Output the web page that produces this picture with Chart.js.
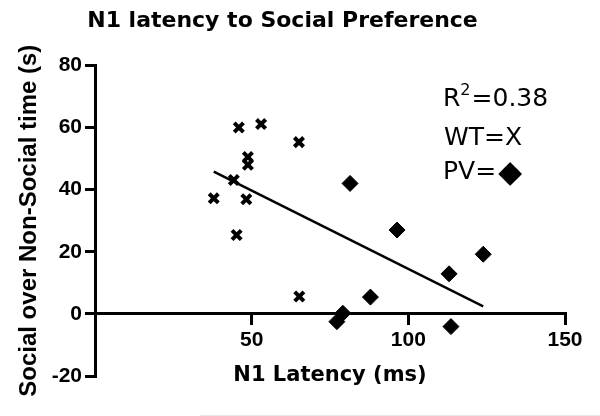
<!DOCTYPE html>
<html>
<head>
<meta charset="utf-8">
<script src="https://cdn.jsdelivr.net/npm/chart.js@4/dist/chart.umd.min.js"></script>
<style>
  body { margin: 0; background: #fff; }
  canvas { display: block; }
</style>
</head>
<body>
<canvas id="chart" width="600" height="416"></canvas>
<script>
// WT mice (drawn as X)
const wtLatency = [45.9, 53.0, 65.1, 48.8, 48.8, 44.3, 37.9, 48.3, 45.2, 65.2];
const wtSocial = [60.0, 61.1, 55.3, 50.5, 48.0, 43.1, 37.2, 36.9, 25.4, 5.6];
// PV mice (diamonds)
const pvLatency = [81.4, 96.4, 123.9, 113.0, 87.9, 79.1, 77.2, 113.6];
const pvSocial = [42.0, 27.0, 19.2, 12.9, 5.4, 0.2, -2.5, -4.1];
// regression line end points
const fitLatency = [37.9, 123.9];
const fitSocial = [45.8, 2.4];

const xTicks = [50, 100, 150];
const yTicks = [-20, 0, 20, 40, 60, 80];

function toPoints(xs, ys) {
    return xs.map((x, i) => ({x: x, y: ys[i]}));
}

const tickFont = {family: 'Liberation Sans', weight: 'bold', size: 21};

// text box in the top right corner, R^2 and the marker key
const notePlugin = {
    id: 'note',
    afterDraw(chart) {
        const ctx = chart.ctx;
        ctx.save();
        ctx.fillStyle = '#000';
        ctx.textBaseline = 'alphabetic';
        ctx.font = '25px "DejaVu Sans"';
        let x = 443;
        ctx.fillText('R', x, 106);
        x += ctx.measureText('R').width;
        ctx.font = '16px "DejaVu Sans"';
        ctx.fillText('2', x, 95);
        x += ctx.measureText('2').width + 1;
        ctx.font = '25px "DejaVu Sans"';
        ctx.fillText('=0.38', x, 106);
        ctx.fillText('WT=X', 444, 145);
        ctx.fillText('PV=', 443, 179);
        x = 443 + ctx.measureText('PV=').width;
        ctx.font = '31px "DejaVu Sans"';
        ctx.fillText('\u25C6', x + 2, 182);
        // faint line at the bottom of the picture
        ctx.strokeStyle = '#e8e8e8';
        ctx.lineWidth = 1;
        ctx.beginPath();
        ctx.moveTo(200, 415.5);
        ctx.lineTo(600, 415.5);
        ctx.stroke();
        ctx.restore();
    }
};

new Chart('chart', {
    type: 'scatter',
    data: {
        datasets: [{
            label: 'WT',
            data: toPoints(wtLatency, wtSocial),
            pointStyle: 'crossRot',
            pointRadius: 6.5,
            borderWidth: 4,
            borderColor: '#000',
            backgroundColor: '#000'
        }, {
            label: 'PV',
            data: toPoints(pvLatency, pvSocial),
            pointStyle: 'rectRot',
            pointRadius: 8,
            borderWidth: 1,
            borderColor: '#000',
            backgroundColor: '#000'
        }, {
            type: 'line',
            label: 'fit',
            data: toPoints(fitLatency, fitSocial),
            showLine: true,
            pointRadius: 0,
            borderWidth: 2.5,
            borderColor: '#000',
            fill: false
        }]
    },
    options: {
        responsive: false,
        animation: false,
        layout: {padding: {left: 0, right: 35, top: 0, bottom: 40}},
        plugins: {
            legend: {display: false},
            tooltip: {enabled: false},
            title: {
                display: true,
                text: 'N1 latency to Social Preference',
                color: '#000',
                font: {family: 'DejaVu Sans', weight: 'bold', size: 22},
                padding: {top: 8, bottom: 31}
            }
        },
        scales: {
            x: {
                type: 'linear',
                min: 0,
                max: 150,
                position: {y: 0},
                afterBuildTicks: s => { s.ticks = [0].concat(xTicks).map(v => ({value: v})); },
                ticks: {
                    color: '#000',
                    font: tickFont,
                    padding: 4,
                    maxRotation: 0,
                    callback: v => (v === 0 ? '' : v)
                },
                grid: {drawOnChartArea: false, color: '#000', lineWidth: 3, tickLength: 10},
                border: {color: '#000', width: 3},
                title: {
                    display: true,
                    text: 'N1 Latency (ms)',
                    color: '#000',
                    font: {family: 'DejaVu Sans', weight: 'bold', size: 21},
                    padding: {top: 6, bottom: 0}
                }
            },
            y: {
                type: 'linear',
                min: -20,
                max: 80,
                afterBuildTicks: s => { s.ticks = yTicks.map(v => ({value: v})); },
                afterFit: s => { s.width = 95; },
                ticks: {color: '#000', font: tickFont, padding: 3},
                grid: {drawOnChartArea: false, color: '#000', lineWidth: 3, tickLength: 10},
                border: {color: '#000', width: 3},
                title: {
                    display: true,
                    text: 'Social over Non-Social time (s)',
                    color: '#000',
                    font: {family: 'Liberation Sans', weight: 'bold', size: 24},
                    padding: {top: 15, bottom: 0}
                }
            }
        }
    },
    plugins: [notePlugin]
});
</script>
</body>
</html>
